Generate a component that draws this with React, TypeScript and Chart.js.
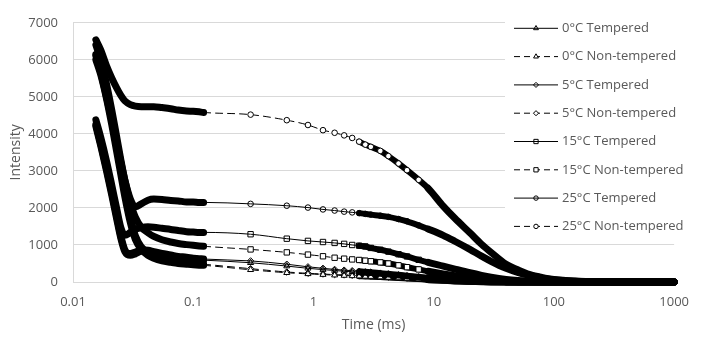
import React, { useEffect, useRef } from 'react';
import { Chart, registerables } from 'chart.js';

Chart.register(...registerables);

// Time axis (ms): dense FID part, then CPMG echoes
const timeFid = [0.0155, 0.017, 0.019, 0.021, 0.023, 0.025, 0.027, 0.03, 0.033, 0.037, 0.042, 0.047, 0.055, 0.065, 0.075, 0.088, 0.1, 0.112, 0.122];
const timeCpmg = [0.3, 0.6, 0.9, 1.2, 1.5, 1.8, 2.1, 2.4, 2.7, 3.0, 3.6, 4.2, 5.1, 6, 7.5, 9, 12, 15, 20, 25, 30, 40, 50, 60, 80, 100, 150, 200, 300, 500, 700, 1000];

const seriesLabels = ['0°C Tempered', '0°C Non-tempered', '5°C Tempered', '5°C Non-tempered', '15°C Tempered', '15°C Non-tempered', '25°C Tempered', '25°C Non-tempered'];

// FID intensities
const fid0T = [4200, 3680, 3000, 2350, 1730, 1180, 820, 720, 760, 830, 820, 780, 730, 690, 650, 630, 605, 595, 590];
const fid0NT = [6000, 5600, 4950, 4250, 3550, 2900, 2300, 1600, 1150, 880, 720, 640, 570, 530, 500, 480, 465, 455, 450];
const fid5T = [4250, 3730, 3060, 2420, 1800, 1240, 870, 770, 810, 870, 860, 820, 770, 730, 690, 670, 640, 630, 620];
const fid5NT = [6150, 5750, 5100, 4400, 3700, 3050, 2450, 1750, 1250, 950, 780, 700, 620, 570, 540, 515, 500, 490, 480];
const fid15T = [4380, 3910, 3270, 2620, 2010, 1470, 1260, 1340, 1420, 1470, 1490, 1480, 1450, 1420, 1390, 1360, 1350, 1340, 1340];
const fid15NT = [6400, 6000, 5350, 4650, 3950, 3300, 2750, 2150, 1750, 1480, 1330, 1230, 1140, 1080, 1040, 1010, 990, 975, 965];
const fid25T = [6100, 5660, 4990, 4370, 3780, 3240, 2750, 2240, 2030, 2110, 2210, 2240, 2230, 2200, 2190, 2160, 2160, 2150, 2150];
const fid25NT = [6540, 6270, 5840, 5510, 5250, 5040, 4890, 4790, 4750, 4735, 4735, 4735, 4710, 4680, 4645, 4620, 4610, 4595, 4580];

// CPMG intensities
const cpmg0T = [520, 430, 370, 335, 310, 290, 275, 260, 250, 240, 220, 200, 175, 155, 125, 100, 70, 48, 25, 15, 8, 3, 1, 0, 0, 0, 0, 0, 0, 0, 0, 0];
const cpmg0NT = [330, 250, 220, 200, 185, 175, 165, 158, 150, 145, 132, 120, 108, 95, 78, 63, 45, 30, 17, 10, 6, 2, 0, 0, 0, 0, 0, 0, 0, 0, 0, 0];
const cpmg5T = [570, 480, 410, 370, 340, 320, 305, 290, 275, 265, 240, 220, 195, 170, 140, 115, 80, 55, 30, 18, 10, 5, 2, 0, 0, 0, 0, 0, 0, 0, 0, 0];
const cpmg5NT = [360, 270, 235, 215, 200, 190, 180, 170, 165, 160, 145, 135, 120, 105, 85, 70, 50, 35, 20, 12, 7, 3, 1, 0, 0, 0, 0, 0, 0, 0, 0, 0];
const cpmg15T = [1290, 1170, 1110, 1080, 1055, 1030, 1000, 980, 960, 920, 870, 820, 750, 690, 600, 530, 430, 350, 250, 180, 130, 70, 40, 25, 12, 6, 2, 0, 0, 0, 0, 0];
const cpmg15NT = [880, 800, 740, 695, 655, 630, 610, 595, 575, 560, 530, 500, 450, 400, 340, 290, 220, 170, 110, 70, 45, 20, 10, 5, 2, 0, 0, 0, 0, 0, 0, 0];
const cpmg25T = [2110, 2060, 2010, 1960, 1930, 1900, 1880, 1860, 1840, 1820, 1790, 1760, 1700, 1640, 1530, 1430, 1260, 1100, 880, 700, 560, 370, 260, 190, 110, 60, 20, 8, 2, 0, 0, 0];
const cpmg25NT = [4520, 4370, 4240, 4100, 4030, 3960, 3890, 3790, 3710, 3650, 3540, 3400, 3200, 3020, 2760, 2530, 2050, 1720, 1330, 1020, 800, 480, 330, 220, 120, 70, 25, 10, 3, 0, 0, 0];

const xTickValues = [0.01, 0.1, 1, 10, 100, 1000];
const xTickLabels = ['0.01', '0.1', '1', '10', '100', '1000'];

const seriesFid = [fid0T, fid0NT, fid5T, fid5NT, fid15T, fid15NT, fid25T, fid25NT];
const seriesCpmg = [cpmg0T, cpmg0NT, cpmg5T, cpmg5NT, cpmg15T, cpmg15NT, cpmg25T, cpmg25NT];

// styling per series
const styles = [
  { point: 'triangle', dashed: false, r: 3.5 },
  { point: 'triangle', dashed: true, r: 3.5 },
  { point: 'rectRot', dashed: false, r: 3.2 },
  { point: 'rectRot', dashed: true, r: 3.2 },
  { point: 'rect', dashed: false, r: 3.8 },
  { point: 'rect', dashed: true, r: 3.8 },
  { point: 'circle', dashed: false, r: 2.8 },
  { point: 'circle', dashed: true, r: 2.8 },
];

const TEXT = '#595959';
const GRID = '#d9d9d9';
const FONT = "'Open Sans', sans-serif";

function drawMarker(ctx: CanvasRenderingContext2D, style: string, x: number, y: number, r: number, fill: boolean) {
  ctx.beginPath();
  if (style === 'circle') ctx.arc(x, y, r, 0, Math.PI * 2);
  else if (style === 'rect') {
    const s = r * Math.SQRT1_2;
    ctx.rect(x - s, y - s, 2 * s, 2 * s);
  } else if (style === 'rectRot') {
    ctx.moveTo(x, y - r); ctx.lineTo(x + r, y); ctx.lineTo(x, y + r); ctx.lineTo(x - r, y); ctx.closePath();
  } else {
    ctx.moveTo(x, y - r); ctx.lineTo(x + r * 0.866, y + r * 0.5); ctx.lineTo(x - r * 0.866, y + r * 0.5); ctx.closePath();
  }
  if (fill) { ctx.fillStyle = '#fff'; ctx.fill(); }
  ctx.setLineDash([]);
  ctx.lineWidth = 1;
  ctx.strokeStyle = '#000';
  ctx.stroke();
}

const legendPlugin = {
  id: 'customLegend',
  beforeDatasetsDraw(chart: any) {
    const ctx = chart.ctx;
    ctx.save();
    ctx.fillStyle = '#fff';
    ctx.fillRect(505, 13, 186, 227);
    ctx.restore();
  },
  afterDatasetsDraw(chart: any) {
    const ctx: CanvasRenderingContext2D = chart.ctx;
    ctx.save();
    seriesLabels.forEach((label, i) => {
      const y = 28.3 + i * 28.3;
      const st = styles[i];
      ctx.beginPath();
      ctx.setLineDash(st.dashed ? [6, 4] : []);
      ctx.lineWidth = 1;
      ctx.strokeStyle = '#000';
      ctx.moveTo(514, y);
      ctx.lineTo(558, y);
      ctx.stroke();
      drawMarker(ctx, st.point, 536, y, st.r * 0.8, st.dashed);
      ctx.setLineDash([]);
      ctx.fillStyle = TEXT;
      ctx.font = `13px ${FONT}`;
      ctx.textBaseline = 'middle';
      ctx.textAlign = 'left';
      ctx.fillText(label, 562, y);
    });
    ctx.restore();
  },
};

export default function App() {
  const ref = useRef<HTMLCanvasElement>(null);
  useEffect(() => {
    if (!ref.current) return;
    const times = [...timeFid, ...timeCpmg];
    const datasets = seriesLabels.map((label, i) => {
      const vals = [...seriesFid[i], ...seriesCpmg[i]];
      const st = styles[i];
      return {
        label,
        data: times.map((t, k) => ({ x: t, y: vals[k] })),
        borderColor: '#000',
        borderWidth: 1,
        pointStyle: st.point,
        pointRadius: (c: any) => {
          const t = times[c.dataIndex];
          return t > 0.2 && t < 9 ? st.r : 0;
        },
        pointBorderColor: '#000',
        pointBorderWidth: 1,
        pointBackgroundColor: st.dashed ? '#fff' : 'rgba(0,0,0,0)',
        pointHoverRadius: 0,
        fill: false,
        clip: false,
        cubicInterpolationMode: 'monotone',
        borderCapStyle: 'round',
        borderJoinStyle: 'round',
        segment: {
          borderWidth: (c: any) => {
            const x0 = c.p0.parsed.x, x1 = c.p1.parsed.x;
            if (x1 <= 0.13) return 7;
            if (x0 >= 9) return 7;
            if (x0 >= 2.4) return 6;
            return 1;
          },
          borderDash: (c: any) => {
            const x0 = c.p0.parsed.x, x1 = c.p1.parsed.x;
            if (x1 <= 0.13 || x0 >= 2.4) return [];
            return st.dashed ? [7, 5] : [];
          },
        },
      };
    });
    const chart = new Chart(ref.current, {
      type: 'line',
      data: { datasets: datasets as any },
      options: {
        animation: false,
        responsive: false,
        devicePixelRatio: 1,
        layout: { padding: { top: 10, right: 26, left: 0, bottom: 0 } },
        plugins: { legend: { display: false }, tooltip: { enabled: false } },
        scales: {
          x: {
            type: 'logarithmic',
            min: 0.01,
            max: 1000,
            afterBuildTicks: (s: any) => { s.ticks = xTickValues.map((v) => ({ value: v })); },
            afterFit: (s: any) => { s.height = 55; },
            grid: { display: false, drawTicks: false },
            border: { display: true, color: GRID },
            ticks: {
              padding: 12,
              color: TEXT,
              font: { family: FONT, size: 13 },
              autoSkip: false,
              maxRotation: 0,
              callback: (v: any) => {
                const idx = xTickValues.indexOf(Number(v));
                return idx >= 0 ? xTickLabels[idx] : '';
              },
            },
            title: { display: true, text: 'Time (ms)', color: TEXT, font: { family: FONT, size: 14 }, padding: { top: 0, bottom: 4 } },
          },
          y: {
            min: 0,
            max: 7000,
            afterFit: (s: any) => { s.width = 73; },
            grid: { color: GRID, drawTicks: false },
            border: { display: true, color: GRID },
            ticks: {
              stepSize: 1000,
              padding: 15,
              color: TEXT,
              font: { family: FONT, size: 13 },
              callback: (v: any) => String(v),
            },
            title: { display: true, text: 'Intensity', color: TEXT, font: { family: FONT, size: 14 }, padding: { top: 8, bottom: 0 } },
          },
        },
      },
      plugins: [legendPlugin],
    });
    return () => chart.destroy();
  }, []);
  return (
    <div style={{ position: 'fixed', left: 0, top: 0, width: 701, height: 337, background: '#fff' }}>
      <canvas ref={ref} width={701} height={337} style={{ width: 701, height: 337 }} />
    </div>
  );
}
